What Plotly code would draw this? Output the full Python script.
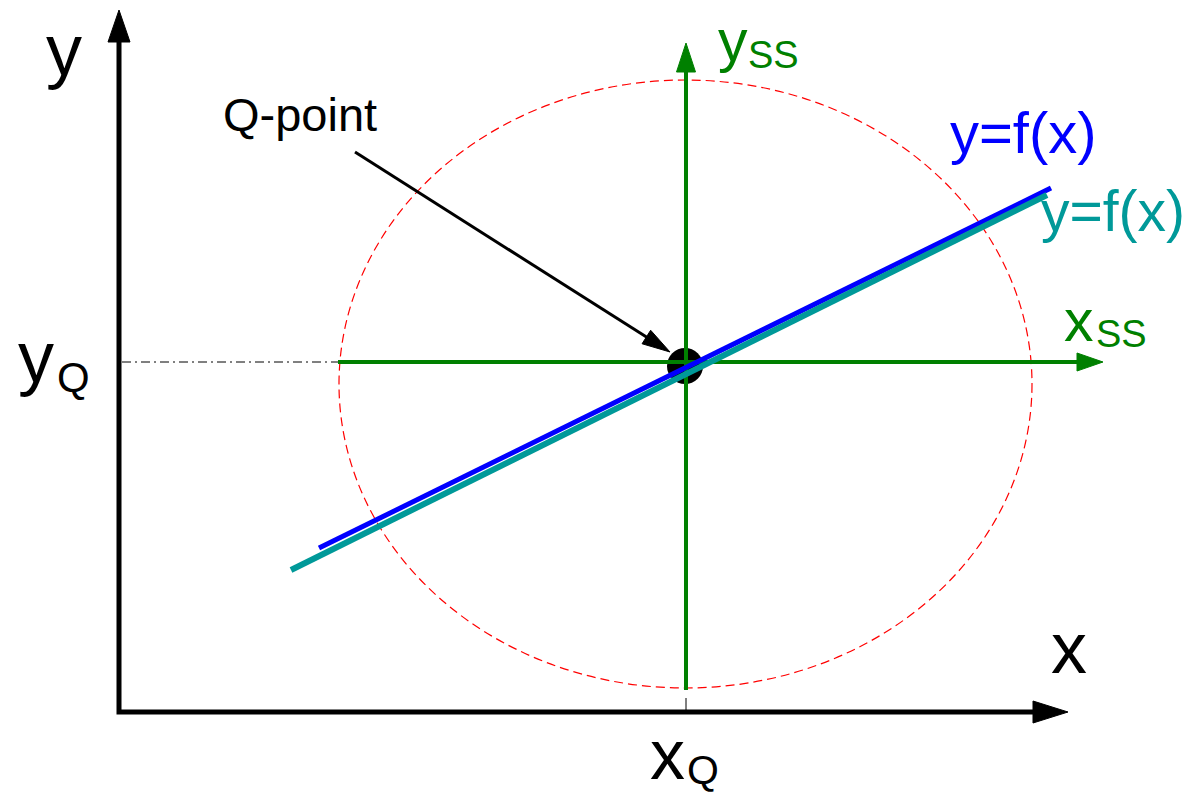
import math
import plotly.graph_objects as go

W, H = 1203, 795
PAGE_MARGIN = 8  # browser default body margin
FONT = "Liberation Sans, Arial, sans-serif"

# ---- diagram geometry (diagram units, y grows downward) ----
axis_origin = [119, 712]
y_axis_tip = [119, 10]
x_axis_tip = [1068, 712]
q_point = [685, 366]
xss_start = [338, 362]
xss_tip = [1103, 362]
yss_start = [686, 690]
yss_tip = [686, 43]
blue_x = [319, 1051]
blue_y = [548, 188]
teal_x = [291, 1047]
teal_y = [570, 195]
ellipse_x = [339, 1032]
ellipse_y = [80, 688]
yq_guide_x = [122, 338]
yq_guide_y = [362, 362]
xq_tick_x = [686, 686]
xq_tick_y = [698, 712]
qarrow_x = [355, 670]
qarrow_y = [152, 352]

# ---- labels: (text, x centre, baseline, font size, colour) ----
labels = [
    ("y", 64, 75, 72, "black"),
    ("x", 1069, 673, 72, "black"),
    ("y", 36, 382, 72, "black"),
    ("Q", 73, 392, 42, "black"),
    ("x", 667, 779, 70, "black"),
    ("Q", 703, 784, 41, "black"),
    ("Q-point", 300, 131, 47, "black"),
    ("y=f(x)", 1023, 153, 58, "#0000ff"),
    ("y=f(x)", 1113, 231, 57, "#009999"),
    ("y", 733, 61, 59, "#008000"),
    ("SS", 773, 68, 38, "#008000"),
    ("x", 1079, 341, 59, "#008000"),
    ("SS", 1121, 347, 38, "#008000"),
]

GREEN = "#008000"
BLUE = "#0000ff"
TEAL = "#009999"


def head(tip, frm, length, half):
    dx, dy = tip[0] - frm[0], tip[1] - frm[1]
    n = math.hypot(dx, dy)
    ux, uy = dx / n, dy / n
    bx, by = tip[0] - ux * length, tip[1] - uy * length
    px, py = -uy * half, ux * half
    xs = [tip[0], bx + px, bx - px, tip[0]]
    ys = [tip[1], by + py, by - py, tip[1]]
    return xs, ys, (bx + ux * 2, by + uy * 2)


fig = go.Figure()

# Q-point dot (under the lines)
fig.add_trace(go.Scatter(x=[q_point[0]], y=[q_point[1]], mode="markers",
                         marker=dict(size=36, color="black"), hoverinfo="skip"))

# dash-dot guide at yQ
fig.add_trace(go.Scatter(x=yq_guide_x, y=yq_guide_y, mode="lines",
                         line=dict(color="black", width=1, dash="9px,4px,2px,4px"),
                         hoverinfo="skip"))
# xQ tick
fig.add_trace(go.Scatter(x=xq_tick_x, y=xq_tick_y, mode="lines",
                         line=dict(color="black", width=1), hoverinfo="skip"))

# small-signal axes (green)
hx, hy, hb = head(xss_tip, xss_start, 26, 9)
fig.add_trace(go.Scatter(x=[xss_start[0], hb[0]], y=[xss_start[1], hb[1]], mode="lines",
                         line=dict(color=GREEN, width=4), hoverinfo="skip"))
fig.add_trace(go.Scatter(x=hx, y=hy, mode="lines", fill="toself", fillcolor=GREEN,
                         line=dict(color=GREEN, width=1), hoverinfo="skip"))
vx, vy, vb = head(yss_tip, yss_start, 29, 9.5)
fig.add_trace(go.Scatter(x=[yss_start[0], vb[0]], y=[yss_start[1], vb[1]], mode="lines",
                         line=dict(color=GREEN, width=4), hoverinfo="skip"))
fig.add_trace(go.Scatter(x=vx, y=vy, mode="lines", fill="toself", fillcolor=GREEN,
                         line=dict(color=GREEN, width=1), hoverinfo="skip"))

# characteristic lines
fig.add_trace(go.Scatter(x=blue_x, y=blue_y, mode="lines",
                         line=dict(color=BLUE, width=5), hoverinfo="skip"))
fig.add_trace(go.Scatter(x=teal_x, y=teal_y, mode="lines",
                         line=dict(color=TEAL, width=6), hoverinfo="skip"))

# main axes
yx, yy, yb = head(y_axis_tip, axis_origin, 32, 11)
xx, xy, xb = head(x_axis_tip, axis_origin, 35, 11)
fig.add_trace(go.Scatter(x=[yb[0], axis_origin[0], xb[0]], y=[yb[1], axis_origin[1], xb[1]],
                         mode="lines", line=dict(color="black", width=5), hoverinfo="skip"))
for ax_, ay_ in ((yx, yy), (xx, xy)):
    fig.add_trace(go.Scatter(x=ax_, y=ay_, mode="lines", fill="toself", fillcolor="black",
                             line=dict(color="black", width=1), hoverinfo="skip"))

# Q-point pointer
qtip = [qarrow_x[1], qarrow_y[1]]
qfrom = [qarrow_x[0], qarrow_y[0]]
ax_, ay_, ab = head(qtip, qfrom, 28, 8)
fig.add_trace(go.Scatter(x=[qfrom[0], ab[0]], y=[qfrom[1], ab[1]], mode="lines",
                         line=dict(color="black", width=3), hoverinfo="skip"))
fig.add_trace(go.Scatter(x=ax_, y=ay_, mode="lines", fill="toself", fillcolor="black",
                         line=dict(color="black", width=1), hoverinfo="skip"))

# dashed red circle
fig.add_shape(type="circle", xref="x", yref="y",
              x0=ellipse_x[0], x1=ellipse_x[1], y0=ellipse_y[0], y1=ellipse_y[1],
              line=dict(color="#ff0000", width=1.2, dash="9px,5px"), layer="below")

for txt, cx, base, fs, col in labels:
    fig.add_annotation(x=cx, y=base - 0.3465 * fs, text=txt, showarrow=False,
                       xref="x", yref="y", xanchor="center", yanchor="middle",
                       borderpad=0,
                       font=dict(family=FONT, size=fs, color=col))

fig.update_layout(
    width=W - PAGE_MARGIN, height=H - PAGE_MARGIN, margin=dict(l=0, r=0, t=0, b=0),
    paper_bgcolor="white", plot_bgcolor="white", showlegend=False,
    xaxis=dict(range=[PAGE_MARGIN, W], visible=False, fixedrange=True),
    yaxis=dict(range=[H, PAGE_MARGIN], visible=False, fixedrange=True),
)
fig.write_html("out.html")
